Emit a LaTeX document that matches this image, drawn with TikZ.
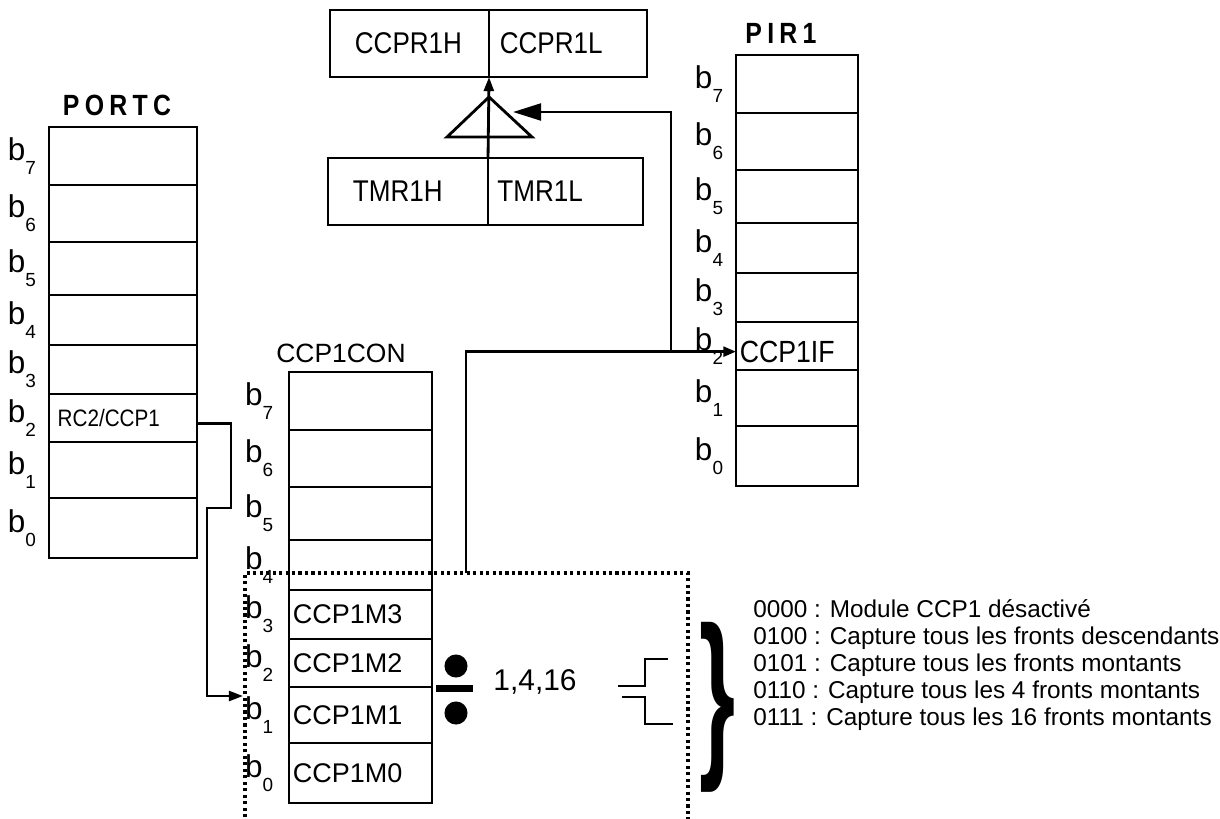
\documentclass[tikz,border=0pt]{standalone}
\usepackage{graphicx}
\usepackage{fontspec}
\setmainfont{Liberation Sans}
\newfontfamily\narrowfont{Liberation Sans}[FakeStretch=0.87]
\newfontfamily\titlefont{Liberation Sans}[FakeStretch=0.85,LetterSpace=18]
\usepackage{tikz}
\usetikzlibrary{arrows.meta,calc,positioning}

\newcommand{\bitname}[1]{b\raisebox{-0.45em}{\fontsize{13.5}{13.5}\selectfont #1}}

\tikzset{
  regcell/.style={draw,line width=2pt,inner sep=0pt,outer sep=0pt},
  bitlbl/.style={font=\fontsize{22.4}{22.4}\selectfont,inner sep=0pt,anchor=east},
  celltext/.style={inner sep=0pt,anchor=west},
  title/.style={font=\titlefont\bfseries\fontsize{20.8}{20.8}\selectfont},
  sig/.style={line width=2pt},
  modeframe/.style={line width=2.2pt,dash pattern=on 2.2pt off 2.4pt},
}

\begin{document}
\begin{tikzpicture}[x=0.025cm,y=-0.025cm]
  \useasboundingbox (0,0) rectangle (1220,818);

  % registres 8 bits
  \node[title] (portc) at (117,105) {PORTC};
  \node[title] (pir) at (781,33) {PIR1};
  \node[font=\fontsize{18.8}{18.8}\selectfont] (ccpcon) at (341,353) {CCP1CON};
  \foreach \i/\lo/\hi in {7/0/58,6/58/115,5/115/168,4/168/218,3/218/267,2/267/315,1/315/371,0/371/431} {
    \node[regcell,minimum width=3.7cm,minimum height={(\hi-\lo)*0.025cm}] (pc\i) at (123,{127+(\lo+\hi)/2}) {};
    \node[bitlbl] (pcb\i) at ([xshift=-9pt]pc\i.west) {\bitname{\i}};
    \node[regcell,minimum width=3.575cm,minimum height={(\hi-\lo)*0.025cm}] (cc\i) at (360.5,{372+(\lo+\hi)/2}) {};
    \node[bitlbl] (ccb\i) at ([xshift=-11pt]cc\i.west) {\bitname{\i}};
    \node[regcell,minimum width=3.05cm,minimum height={(\hi-\lo)*0.025cm}] (pir\i) at (797,{55+(\lo+\hi)/2}) {};
    \node[bitlbl] (pirb\i) at ([xshift=-9pt]pir\i.west) {\bitname{\i}};
  }
  \node[celltext,font=\narrowfont\fontsize{16.9}{16.9}\selectfont] (rctext) at ([xshift=6pt]pc2.west) {RC2/CCP1};
  \foreach \i in {0,...,3}
    \node[celltext,font=\fontsize{19.2}{19.2}\selectfont] (mode\i) at ([xshift=2.5pt]cc\i.west) {CCP1M\i};
  \node[celltext,font=\narrowfont\fontsize{21.8}{21.8}\selectfont] (iftext) at ([xshift=2.5pt,yshift=-4pt]pir2.west) {CCP1IF};

  % CCPR1 et TMR1
  \node[regcell,minimum width=3.975cm,minimum height=1.675cm] (ccprh) at (409.5,43.5) {};
  \node[regcell,minimum width=3.95cm,minimum height=1.675cm,right=0pt of ccprh] (ccprl) {};
  \node[regcell,minimum width=4cm,minimum height=1.675cm] (tmrh) at (408,191.5) {};
  \node[regcell,minimum width=3.875cm,minimum height=1.675cm,right=0pt of tmrh] (tmrl) {};
  \node[celltext,font=\narrowfont\fontsize{21.3}{21.3}\selectfont] at ([xshift=17.5pt]ccprh.west) {CCPR1H};
  \node[celltext,font=\narrowfont\fontsize{21.3}{21.3}\selectfont] at ([xshift=7.5pt]ccprl.west) {CCPR1L};
  \node[celltext,font=\narrowfont\fontsize{21.3}{21.3}\selectfont] at ([xshift=17.5pt]tmrh.west) {TMR1H};
  \node[celltext,font=\narrowfont\fontsize{21.3}{21.3}\selectfont] at ([xshift=6.5pt]tmrl.west) {TMR1L};
  \draw[sig] (447,137) -- (489,97) -- (532,137) -- cycle;
  \draw[sig,-{Triangle[length=10pt,width=7pt]}] (tmrh.north east) -- (ccprh.south east);

  % liaisons
  \coordinate (modetop) at (466,573);
  \coordinate (branch) at (671,352);
  \coordinate (cmpin) at (513,112);
  \coordinate (capin) at (243,696);
  \draw[sig,-{Triangle[length=9pt,width=7pt]}] (modetop) |- ([yshift=-4pt]pir2.west);
  \draw[sig,-{Triangle[length=20pt,width=12pt]}] (branch) |- (cmpin);
  \draw[sig,-{Triangle[length=10pt,width=7pt]}] ([yshift=-4pt]pc2.east) -| (231,508) -| (207,696) -- (capin);

  % prediviseur et fronts
  \draw[modeframe] (245,830) -- (245,573) -- (688,573) -- (688,830);
  \fill (456,666) circle (8.2pt);
  \fill (456,713) circle (8.2pt);
  \draw[line width=5pt] (436,688) -- (473,688);
  \node[font=\fontsize{21.3}{21.3}\selectfont] (ratio) at (535,682) {1,4,16};
  \draw[line width=2pt] (618,686) -| (645,659) -- (668,659);
  \draw[line width=2pt] (622,697) -| (645,724) -- (673,724);
  \node (brace) at (717,707) {\resizebox*{0.9cm}{4.25cm}{\bfseries\}}};
  \node[anchor=west,align=left,inner sep=0pt,font=\fontsize{17.3}{19.2}\selectfont] (modes) at (753,665)
    {0000 : Module CCP1 désactivé\\
     0100 : Capture tous les fronts descendants\\
     0101 : Capture tous les fronts montants\\
     0110 : Capture tous les 4 fronts montants\\
     0111 : Capture tous les 16 fronts montants};
\end{tikzpicture}
\end{document}
